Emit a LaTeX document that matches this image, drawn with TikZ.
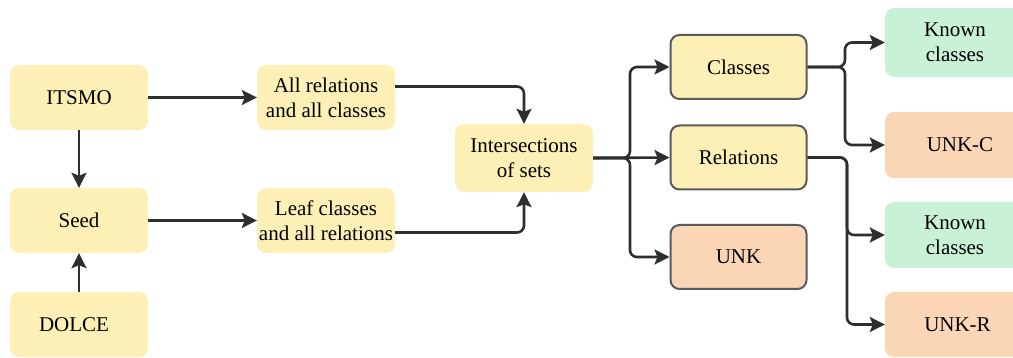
\documentclass[tikz,border=0pt]{standalone}
\usepackage{fontspec}
\setmainfont{Liberation Serif}
\usetikzlibrary{arrows.meta}
\definecolor{boxyellow}{HTML}{FCF0B6}
\definecolor{boxorange}{HTML}{FAD5B6}
\definecolor{boxgreen}{HTML}{C8F1D6}
\definecolor{edgegray}{HTML}{5A5A5A}
\definecolor{linedark}{HTML}{2E2E2E}
\tikzset{
  base/.style={rounded corners=9pt, align=center, inner sep=0pt,
    font=\fontsize{21}{25}\selectfont, text=black},
  plain/.style={base, fill=boxyellow, minimum width=138pt, minimum height=65pt},
  framed/.style={base, draw=edgegray, line width=2pt, minimum width=136pt, minimum height=64pt},
  flow/.style={draw=linedark, line width=2.6pt, rounded corners=7pt,
    -{Stealth[length=15pt, width=15pt, inset=3pt]}},
}
\begin{document}
\begin{tikzpicture}[x=1pt, y=-1pt]
\useasboundingbox (0,0) rectangle (1013,358);

% source ontologies
\node[plain] (itsmo) at (79,97.5) {ITSMO};
\node[plain] (seed) at (79,220.5) {Seed};
\node[plain] (dolce) at (79,324.5) {\hspace*{-10pt}DOLCE};

% extracted sets
\node[plain] (allrel) at (326,97.5) {All relations\\and all classes};
\node[plain] (leaf) at (326,220.5) {Leaf classes\\and all relations};
\node[plain, minimum height=68pt] (inter) at (524,158) {Intersections\\of sets};

% split of the intersection
\node[framed, fill=boxyellow] (classes) at (738.5,67) {Classes};
\node[framed, fill=boxyellow] (relations) at (738.5,157.5) {Relations};
\node[framed, fill=boxorange] (unk) at (738.5,257) {UNK};

% final labels
\node[plain, fill=boxgreen, minimum width=140pt, minimum height=69pt] (known1) at (955,42.5) {Known\\classes};
\node[plain, fill=boxorange, minimum width=140pt, minimum height=66pt] (unkc) at (955,145) {\hspace*{10pt}UNK-C};
\node[plain, fill=boxgreen, minimum width=140pt, minimum height=66pt] (known2) at (955,235) {Known\\classes};
\node[plain, fill=boxorange, minimum width=140pt, minimum height=65pt] (unkr) at (955,324.5) {\hspace*{5pt}UNK-R};

% branching columns
\coordinate (j1) at (630,0);
\coordinate (j2) at (845,0);
\coordinate (j3) at (847,0);

% connectors
\draw[flow] (itsmo) -- (seed);
\draw[flow] (dolce) -- (seed);
\draw[flow] (itsmo) -- (allrel);
\draw[flow] (seed) -- (leaf);
\draw[flow] ([yshift=11pt]allrel.east) -| (inter.north);
\draw[flow] ([yshift=-12pt]leaf.east) -| (inter.south);

\draw[flow] (inter.east) -- (inter.east -| j1) -- (j1 |- classes.west) -- (classes.west);
\draw[flow] (inter.east) -- (relations.west);
\draw[flow] (inter.east) -- (inter.east -| j1) -- (j1 |- unk.west) -- (unk.west);

\draw[flow] (classes.east) -- (classes.east -| j2) -- (j2 |- known1.west) -- (known1.west);
\draw[flow] (classes.east) -- (classes.east -| j2) -- (j2 |- unkc.west) -- (unkc.west);
\draw[flow] (relations.east) -- (relations.east -| j3) -- (j3 |- known2.west) -- (known2.west);
\draw[flow] (relations.east) -- (relations.east -| j3) -- (j3 |- unkr.west) -- (unkr.west);
\end{tikzpicture}
\end{document}
